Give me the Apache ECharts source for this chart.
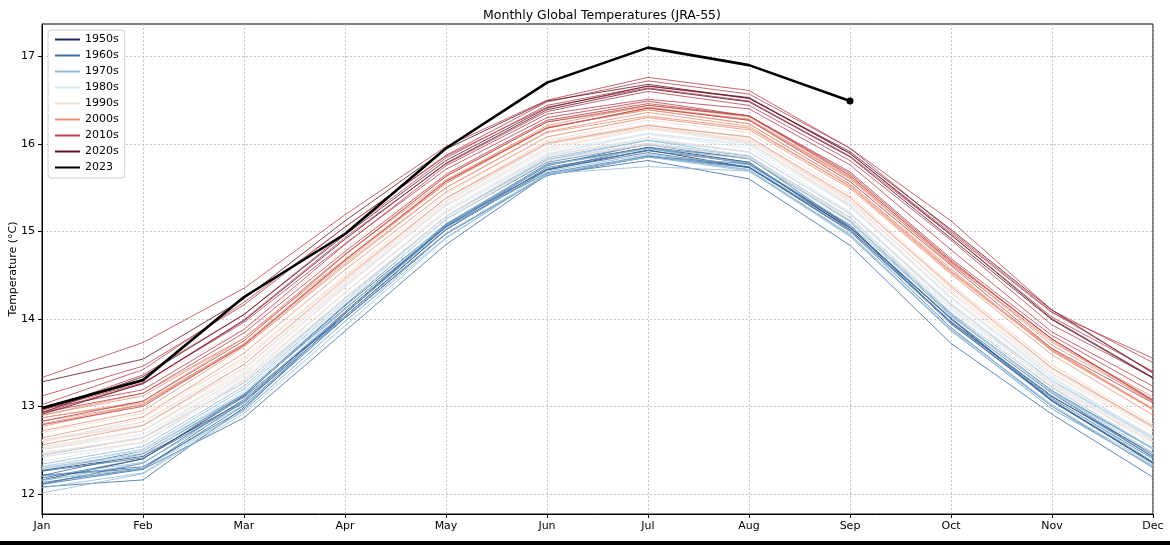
<!DOCTYPE html>
<html>
<head>
<meta charset="utf-8">
<title>Monthly Global Temperatures (JRA-55)</title>
<script src="https://cdn.jsdelivr.net/npm/echarts@6/dist/echarts.min.js"></script>
<style>
    html, body { margin: 0; padding: 0; background: #fff; }
    #chart { width: 1170px; height: 545px; position: relative; }
    #band { position: absolute; left: 0; top: 541px; width: 1170px; height: 4px; background: #000; }
</style>
</head>
<body>
<div id="chart"></div>
<div id="band"></div>
<script>
// months on the x axis
const months = ['Jan', 'Feb', 'Mar', 'Apr', 'May', 'Jun', 'Jul', 'Aug', 'Sep', 'Oct', 'Nov', 'Dec'];
const yTicks = [12, 13, 14, 15, 16, 17];

// monthly global mean temperature (°C), one row per year
const temps1950s = [ // 1958-1959
    [12.27, 12.43, 13.06, 14.08, 15.07, 15.76, 15.96, 15.79, 15.02, 13.96, 13.11, 12.46],
    [12.16, 12.40, 13.11, 14.03, 15.02, 15.70, 15.93, 15.73, 15.04, 14.00, 13.06, 12.35]
];
const temps1960s = [
    [12.21, 12.31, 12.97, 14.06, 15.05, 15.67, 15.86, 15.77, 15.05, 13.94, 13.09, 12.40],
    [12.21, 12.46, 13.12, 14.15, 15.08, 15.71, 15.96, 15.84, 15.05, 14.00, 13.15, 12.42],
    [12.26, 12.41, 13.04, 14.06, 15.08, 15.77, 15.95, 15.77, 15.07, 13.95, 13.06, 12.36],
    [12.18, 12.40, 13.13, 14.12, 15.05, 15.75, 16.00, 15.86, 15.11, 14.06, 13.16, 12.44],
    [12.11, 12.28, 12.87, 13.86, 14.85, 15.65, 15.81, 15.60, 14.84, 13.72, 12.91, 12.19],
    [12.08, 12.16, 12.99, 14.01, 14.97, 15.64, 15.85, 15.73, 15.00, 13.90, 13.00, 12.30],
    [12.11, 12.35, 13.08, 14.06, 15.06, 15.71, 15.90, 15.73, 15.01, 13.97, 13.12, 12.42],
    [12.21, 12.29, 13.01, 14.03, 15.02, 15.73, 15.92, 15.79, 15.05, 14.01, 13.07, 12.36],
    [12.13, 12.29, 13.06, 14.01, 14.97, 15.64, 15.86, 15.74, 15.01, 13.95, 13.07, 12.36],
    [12.26, 12.49, 13.14, 14.16, 15.14, 15.79, 15.99, 15.83, 15.12, 14.05, 13.18, 12.52]
];
const temps1970s = [
    [12.30, 12.46, 13.10, 14.07, 15.03, 15.69, 15.88, 15.76, 15.01, 13.95, 13.10, 12.37],
    [12.16, 12.29, 12.95, 13.97, 14.93, 15.65, 15.85, 15.69, 14.94, 13.87, 12.97, 12.32],
    [12.15, 12.35, 13.06, 14.11, 15.07, 15.76, 15.95, 15.83, 15.12, 14.06, 13.16, 12.52],
    [12.44, 12.64, 13.27, 14.23, 15.17, 15.82, 16.00, 15.84, 15.11, 14.03, 13.17, 12.47],
    [12.07, 12.24, 12.95, 13.97, 14.97, 15.64, 15.87, 15.70, 14.97, 13.87, 12.97, 12.32],
    [12.20, 12.36, 13.02, 14.03, 14.98, 15.66, 15.85, 15.71, 14.95, 13.88, 13.02, 12.30],
    [12.01, 12.23, 12.92, 13.92, 14.92, 15.66, 15.74, 15.69, 14.96, 13.86, 13.00, 12.34],
    [12.34, 12.54, 13.23, 14.23, 15.17, 15.82, 16.04, 15.86, 15.16, 14.07, 13.22, 12.52],
    [12.29, 12.44, 13.14, 14.11, 15.09, 15.76, 15.94, 15.78, 15.08, 14.04, 13.17, 12.51],
    [12.31, 12.51, 13.20, 14.20, 15.17, 15.84, 16.04, 15.91, 15.20, 14.16, 13.29, 12.63]
];
const temps1980s = [
    [12.45, 12.65, 13.31, 14.30, 15.22, 15.86, 16.06, 15.90, 15.20, 14.14, 13.26, 12.56],
    [12.51, 12.68, 13.34, 14.30, 15.22, 15.88, 16.11, 15.95, 15.22, 14.17, 13.30, 12.66],
    [12.32, 12.49, 13.16, 14.17, 15.14, 15.81, 16.01, 15.85, 15.15, 14.12, 13.27, 12.61],
    [12.61, 12.79, 13.44, 14.39, 15.29, 15.92, 16.12, 16.00, 15.31, 14.25, 13.34, 12.64],
    [12.30, 12.50, 13.17, 14.20, 15.17, 15.80, 15.99, 15.85, 15.11, 14.06, 13.16, 12.46],
    [12.28, 12.44, 13.17, 14.18, 15.13, 15.81, 16.01, 15.87, 15.13, 14.08, 13.21, 12.53],
    [12.42, 12.59, 13.26, 14.23, 15.18, 15.86, 16.05, 15.91, 15.21, 14.18, 13.30, 12.65],
    [12.52, 12.73, 13.39, 14.38, 15.33, 15.99, 16.21, 16.07, 15.35, 14.29, 13.41, 12.76],
    [12.62, 12.82, 13.48, 14.43, 15.35, 16.00, 16.19, 16.02, 15.30, 14.25, 13.34, 12.65],
    [12.37, 12.59, 13.30, 14.30, 15.25, 15.89, 16.12, 15.98, 15.28, 14.23, 13.32, 12.66]
];
const temps1990s = [
    [12.59, 12.86, 13.56, 14.49, 15.38, 16.00, 16.22, 16.08, 15.36, 14.39, 13.48, 12.80],
    [12.61, 12.78, 13.44, 14.44, 15.38, 16.03, 16.22, 16.02, 15.29, 14.25, 13.37, 12.71],
    [12.47, 12.63, 13.28, 14.25, 15.17, 15.81, 16.00, 15.84, 15.14, 14.11, 13.23, 12.59],
    [12.42, 12.59, 13.30, 14.30, 15.23, 15.87, 16.07, 15.91, 15.19, 14.17, 13.25, 12.60],
    [12.46, 12.64, 13.36, 14.36, 15.31, 15.94, 16.17, 16.01, 15.33, 14.32, 13.43, 12.75],
    [12.70, 12.92, 13.54, 14.48, 15.38, 16.04, 16.27, 16.13, 15.42, 14.40, 13.47, 12.76],
    [12.50, 12.72, 13.37, 14.36, 15.30, 15.96, 16.18, 16.04, 15.35, 14.30, 13.38, 12.75],
    [12.60, 12.82, 13.52, 14.50, 15.43, 16.08, 16.31, 16.18, 15.51, 14.52, 13.64, 12.98],
    [12.92, 13.27, 13.88, 14.80, 15.66, 16.26, 16.48, 16.29, 15.58, 14.58, 13.63, 12.96],
    [12.54, 12.72, 13.42, 14.41, 15.35, 16.00, 16.19, 16.05, 15.38, 14.35, 13.43, 12.78]
];
const temps2000s = [
    [12.56, 12.78, 13.48, 14.46, 15.38, 16.01, 16.21, 16.08, 15.39, 14.37, 13.44, 12.77],
    [12.72, 12.95, 13.68, 14.61, 15.50, 16.14, 16.36, 16.20, 15.51, 14.53, 13.64, 12.97],
    [12.90, 13.12, 13.78, 14.68, 15.55, 16.19, 16.39, 16.23, 15.54, 14.55, 13.65, 12.97],
    [12.87, 13.04, 13.71, 14.67, 15.57, 16.18, 16.41, 16.28, 15.61, 14.64, 13.70, 13.06],
    [12.80, 13.02, 13.69, 14.63, 15.50, 16.13, 16.32, 16.18, 15.52, 14.54, 13.66, 12.97],
    [12.87, 13.06, 13.78, 14.74, 15.63, 16.25, 16.42, 16.28, 15.62, 14.62, 13.75, 13.04],
    [12.77, 13.02, 13.71, 14.65, 15.55, 16.18, 16.41, 16.27, 15.60, 14.63, 13.73, 13.11],
    [12.90, 13.15, 13.78, 14.74, 15.59, 16.19, 16.39, 16.23, 15.54, 14.57, 13.63, 12.96],
    [12.64, 12.88, 13.61, 14.56, 15.45, 16.08, 16.30, 16.16, 15.49, 14.51, 13.59, 12.90],
    [12.83, 13.02, 13.72, 14.68, 15.58, 16.21, 16.44, 16.31, 15.63, 14.66, 13.77, 13.08]
];
const temps2010s = [
    [12.96, 13.27, 13.96, 14.86, 15.71, 16.30, 16.49, 16.32, 15.64, 14.65, 13.77, 13.07],
    [12.79, 13.00, 13.70, 14.67, 15.57, 16.18, 16.41, 16.27, 15.57, 14.61, 13.66, 13.04],
    [12.83, 13.06, 13.75, 14.73, 15.63, 16.25, 16.44, 16.32, 15.66, 14.67, 13.77, 13.06],
    [12.93, 13.15, 13.84, 14.77, 15.65, 16.27, 16.46, 16.32, 15.68, 14.69, 13.81, 13.16],
    [12.97, 13.19, 13.88, 14.85, 15.75, 16.34, 16.51, 16.40, 15.76, 14.79, 13.85, 13.23],
    [12.95, 13.36, 14.05, 14.98, 15.84, 16.44, 16.66, 16.52, 15.89, 14.98, 14.07, 13.55],
    [13.33, 13.73, 14.35, 15.19, 15.97, 16.50, 16.76, 16.61, 15.95, 15.00, 14.08, 13.39],
    [13.12, 13.46, 14.16, 15.05, 15.86, 16.42, 16.64, 16.49, 15.86, 14.96, 14.02, 13.40],
    [12.93, 13.26, 13.99, 14.93, 15.77, 16.37, 16.60, 16.44, 15.81, 14.90, 13.93, 13.33],
    [13.02, 13.42, 14.19, 15.05, 15.87, 16.48, 16.72, 16.57, 15.95, 15.12, 14.10, 13.50]
];
const temps2020s = [ // 2020-2022
    [13.28, 13.54, 14.23, 15.12, 15.94, 16.49, 16.68, 16.52, 15.91, 15.02, 14.10, 13.38],
    [12.91, 13.26, 13.98, 14.91, 15.78, 16.39, 16.63, 16.48, 15.85, 14.92, 13.99, 13.32],
    [12.93, 13.34, 14.05, 14.96, 15.81, 16.41, 16.66, 16.53, 15.89, 14.96, 14.00, 13.33]
];
// 2023 through September
const temps2023 = [12.98, 13.30, 14.25, 14.97, 15.95, 16.70, 17.10, 16.90, 16.49];

const decades = ['1950s', '1960s', '1970s', '1980s', '1990s', '2000s', '2010s', '2020s'];
const decadeRows = [temps1950s, temps1960s, temps1970s, temps1980s, temps1990s, temps2000s, temps2010s, temps2020s];
const decadeColors = ['#1b2c5a', '#3b6ea5', '#8fbad6', '#d6e5ee', '#f5dcd0', '#e8957a', '#b9434e', '#5e1328'];

const FONT = 'DejaVu Sans';

const series = [];
decades.forEach((name, i) => {
    for (const row of decadeRows[i]) {
        series.push({
            name,
            type: 'line',
            data: row,
            symbol: 'none',
            silent: true,
            itemStyle: { color: decadeColors[i] },
            lineStyle: { color: decadeColors[i], width: 0.9, opacity: 0.9 }
        });
    }
});

const last = temps2023.length - 1;
series.push({
    name: '2023',
    type: 'line',
    data: temps2023.map((v, i) => (i === last ? { value: v, symbol: 'circle', symbolSize: 7 } : v)),
    symbol: 'none',
    silent: true,
    z: 5,
    itemStyle: { color: '#000' },
    lineStyle: { color: '#000', width: 2.6 }
});

const gridLine = { show: true, lineStyle: { color: '#b8b8b8', width: 0.8, type: [2, 2] } };

const option = {
    animation: false,
    textStyle: { fontFamily: FONT },
    title: {
        text: 'Monthly Global Temperatures (JRA-55)',
        left: 597,
        textAlign: 'center',
        top: 4,
        textStyle: { fontFamily: FONT, fontSize: 12.5, fontWeight: 'normal', color: '#000' }
    },
    legend: {
        data: decades.concat(['2023']),
        orient: 'vertical',
        left: 48,
        top: 30,
        padding: [4, 6, 5, 6],
        itemWidth: 25,
        itemHeight: 12,
        itemGap: 5,
        borderColor: '#d0d0d0',
        borderWidth: 1,
        borderRadius: 3,
        backgroundColor: 'rgba(255,255,255,0.85)',
        lineStyle: { width: 2, opacity: 1 },
        itemStyle: { opacity: 0 },
        textStyle: { fontFamily: FONT, fontSize: 11, color: '#000' },
        selectedMode: false
    },
    grid: {
        left: 42,
        right: 17,
        top: 24,
        bottom: 31,
        outerBoundsMode: 'none',
        containLabel: false,
        show: true,
        borderColor: '#000',
        borderWidth: 1
    },
    xAxis: {
        type: 'category',
        data: months,
        boundaryGap: false,
        axisLine: { lineStyle: { color: '#000', width: 1 } },
        axisTick: { show: true, length: 4, alignWithLabel: true, lineStyle: { color: '#000' } },
        axisLabel: { fontFamily: FONT, fontSize: 11, color: '#000', margin: 7, interval: 0 },
        splitLine: gridLine
    },
    yAxis: {
        type: 'value',
        min: 11.77,
        max: 17.37,
        name: 'Temperature (°C)',
        nameLocation: 'middle',
        nameGap: 23,
        nameRotate: 90,
        nameMoveOverlap: false,
        nameTextStyle: { fontFamily: FONT, fontSize: 11, color: '#000' },
        axisLine: { show: true, lineStyle: { color: '#000', width: 1 } },
        axisTick: { show: true, length: 4, customValues: yTicks, lineStyle: { color: '#000' } },
        axisLabel: { fontFamily: FONT, fontSize: 11, color: '#000', margin: 7, customValues: yTicks },
        splitLine: gridLine
    },
    series
};

const chart = echarts.init(document.getElementById('chart'), null, { renderer: 'canvas' });
chart.setOption(option);
</script>
</body>
</html>
